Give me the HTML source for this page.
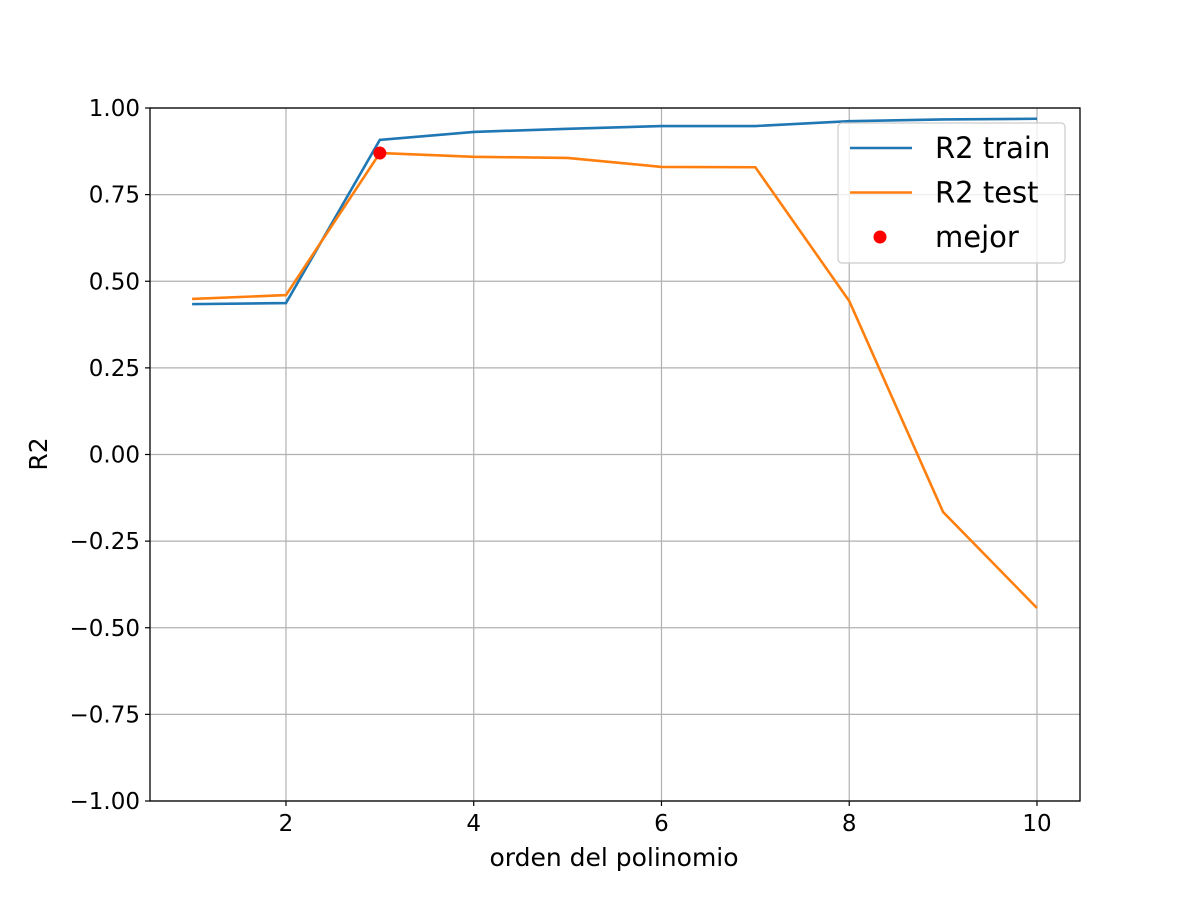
<!DOCTYPE html>
<html><head><meta charset="utf-8"><style>body{margin:0;background:#fff}svg text{font-family:"DejaVu Sans","Liberation Sans",sans-serif;fill:#000}</style></head>
<body>
<svg id="chart" width="1200" height="900" xmlns="http://www.w3.org/2000/svg"></svg>
<script>
const orders = [1,2,3,4,5,6,7,8,9,10];
const r2Train = [0.434,0.437,0.908,0.931,0.940,0.948,0.948,0.962,0.967,0.969];
const r2Test = [0.449,0.460,0.870,0.859,0.856,0.830,0.829,0.443,-0.166,-0.443];
const bestOrder = [3];
const bestValue = [0.870];
const xTicks = [2,4,6,8,10];
const yTicks = [-1,-0.75,-0.5,-0.25,0,0.25,0.5,0.75,1];

const L=150,R=1080,T=108,B=801;
const x=v=>192.1+(v-1)*93.875;
const y=v=>454.5-v*346.5;
const svg=document.getElementById('chart');
const NS='http://www.w3.org/2000/svg';
function mk(tag,attrs,parent){const e=document.createElementNS(NS,tag);for(const k in attrs)e.setAttribute(k,attrs[k]);(parent||svg).appendChild(e);return e;}

xTicks.forEach(t=>{
  const g=mk('line',{x1:x(t),x2:x(t),y1:T,y2:B,stroke:'#b0b0b0','stroke-width':1.2});
  
  
  mk('line',{x1:x(t),x2:x(t),y1:B,y2:B+5,stroke:'#000','stroke-width':1.2});
  const tx=mk('text',{x:x(t),y:B+30,'text-anchor':'middle','font-size':23});
  tx.textContent=t;
  
  
});
yTicks.forEach(t=>{
  const g=mk('line',{x1:L,x2:R,y1:y(t),y2:y(t),stroke:'#b0b0b0','stroke-width':1.2});
  
  
  mk('line',{x1:L-5,x2:L,y1:y(t),y2:y(t),stroke:'#000','stroke-width':1.2});
  const tx=mk('text',{x:L-10,y:y(t)+8,'text-anchor':'end','font-size':23});
  tx.textContent=(t<0?'\u2212':'')+Math.abs(t).toFixed(2);
  
  
});

const pTrain=mk('polyline',{points:orders.map((o,i)=>x(o)+','+y(r2Train[i])).join(' '),fill:'none',stroke:'#1f77b4','stroke-width':2.6});


const pTest=mk('polyline',{points:orders.map((o,i)=>x(o)+','+y(r2Test[i])).join(' '),fill:'none',stroke:'#ff7f0e','stroke-width':2.6});


const best=mk('circle',{cx:x(bestOrder[0]),cy:y(bestValue[0]),r:6.5,fill:'#ff0000'});



const frame=mk('rect',{x:L,y:T,width:R-L,height:B-T,fill:'none',stroke:'#000','stroke-width':1.3});



const xl=mk('text',{x:(L+R)/2-1,y:866,'text-anchor':'middle','font-size':25});
xl.textContent='orden del polinomio';


const yl=mk('text',{x:47,y:454,'text-anchor':'middle','font-size':25,transform:'rotate(-90 47 454)'});
yl.textContent='R2';



const lg=mk('g',{});


mk('rect',{x:838,y:123,width:227,height:140,rx:4,fill:'#fff','fill-opacity':0.8,stroke:'#ccc','stroke-width':1.2},lg);
const entries=[['R2 train','#1f77b4','line'],['R2 test','#ff7f0e','line'],['mejor','#ff0000','dot']];
entries.forEach((e,i)=>{
  const cy=148+i*44.5;
  if(e[2]==='line'){mk('line',{x1:850,x2:912,y1:cy,y2:cy,stroke:e[1],'stroke-width':2.6},lg);}
  else{mk('circle',{cx:880,cy:cy,r:6.5,fill:e[1]},lg);}
  const t=mk('text',{x:935,y:cy+10,'font-size':29},lg);
  t.textContent=e[0];
  
  
});
</script>
</body></html>
